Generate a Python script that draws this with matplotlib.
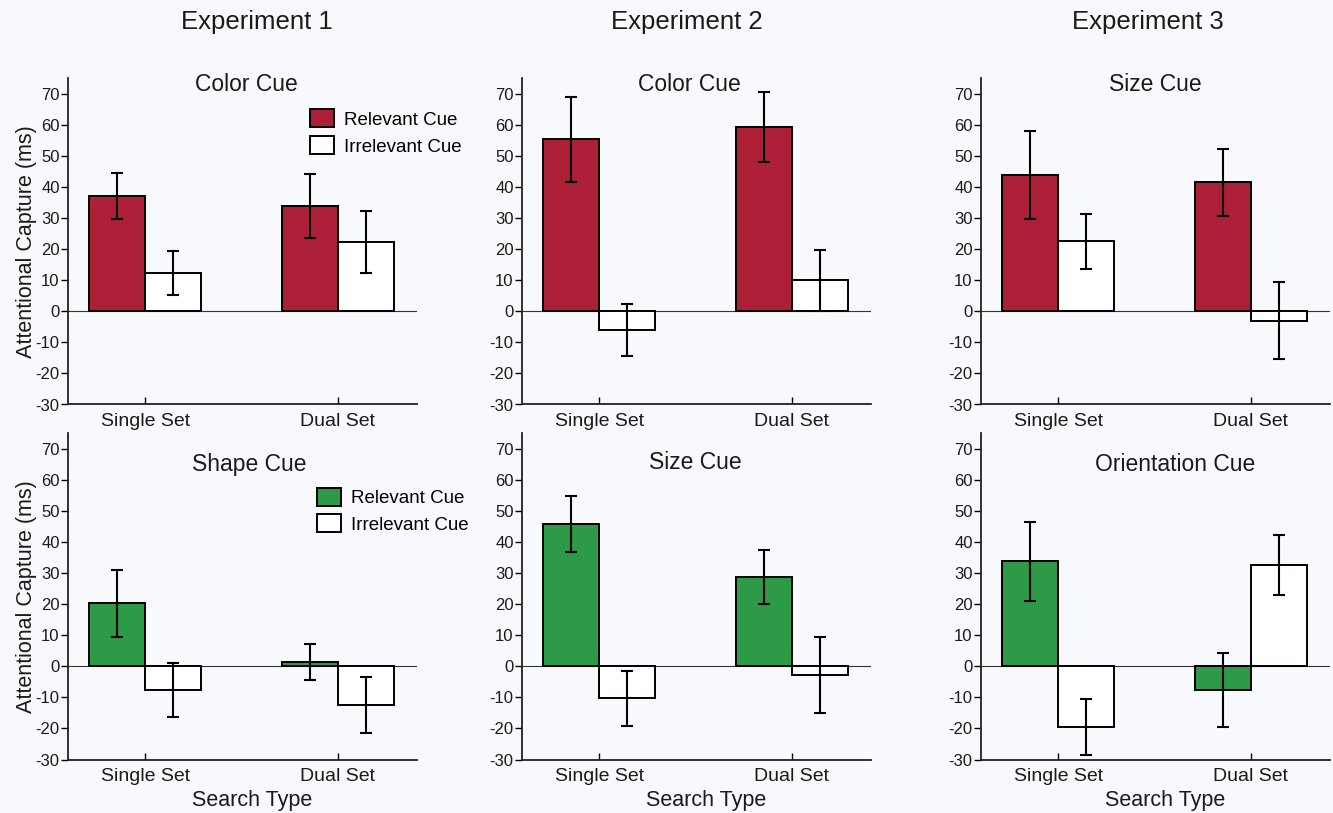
import matplotlib
matplotlib.use("Agg")
import matplotlib.pyplot as plt
from matplotlib.patches import Patch

plt.rcParams["font.family"] = ["Liberation Sans", "DejaVu Sans"]

# values (ms)
search_types = ["Single Set", "Dual Set"]
experiments = ["Experiment 1", "Experiment 2", "Experiment 3"]
panel_titles = ["Color Cue", "Color Cue", "Size Cue",
                "Shape Cue", "Size Cue", "Orientation Cue"]
relevant_means = [[37.2, 33.8], [55.3, 59.2], [43.7, 41.4],
                  [20.3, 1.3], [45.8, 28.7], [33.7, -7.6]]
relevant_errs = [[7.4, 10.2], [13.6, 11.3], [14.2, 10.7],
                 [10.8, 5.8], [9.1, 8.8], [12.6, 12.0]]
irrelevant_means = [[12.4, 22.3], [-6.0, 9.9], [22.5, -3.0],
                    [-7.7, -12.5], [-10.3, -2.8], [-19.6, 32.5]]
irrelevant_errs = [[7.1, 9.9], [8.3, 9.7], [8.85, 12.3],
                   [8.75, 8.9], [8.8, 12.1], [9.1, 9.55]]
yticks = list(range(-30, 80, 10))

red = "#ad1f36"
green = "#2c9a47"
bg = "#f8f9fc"
ink = "#1a1a1a"

W, H = 1333, 813
fig = plt.figure(figsize=(W / 100, H / 100), dpi=100, facecolor=bg)

lefts = [68, 522, 981]
tops = [78, 433]
ax_w, ax_h = 349, 326.5

title_x = [0.51, 0.48, 0.50, 0.52, 0.497, 0.556]
title_y = [72.8, 72.8, 72.8, 65.0, 65.5, 65.0]

bw = 0.29
x = [0, 1]

for i in range(6):
    row, col = divmod(i, 3)
    l, t = lefts[col], tops[row]
    ax = fig.add_axes([l / W, 1 - (t + ax_h) / H, ax_w / W, ax_h / H])
    ax.set_facecolor(bg)
    color = red if row == 0 else green

    xr = [v - bw / 2 for v in x]
    xi = [v + bw / 2 for v in x]
    ax.bar(xr, relevant_means[i], bw, color=color, edgecolor="black", linewidth=1.4, zorder=2)
    ax.bar(xi, irrelevant_means[i], bw, color="white", edgecolor="black", linewidth=1.4, zorder=2)
    ax.errorbar(xr, relevant_means[i], yerr=relevant_errs[i], fmt="none",
                ecolor="black", elinewidth=1.5, capsize=4, capthick=1.5, zorder=3)
    ax.errorbar(xi, irrelevant_means[i], yerr=irrelevant_errs[i], fmt="none",
                ecolor="black", elinewidth=1.5, capsize=4, capthick=1.5, zorder=3)
    ax.axhline(0, color="#333333", linewidth=0.8, zorder=1)

    ax.set_xlim(-0.40, 1.41)
    ax.set_ylim(-30, 75)
    ax.set_yticks(yticks)
    ax.set_yticklabels([str(v) for v in yticks], fontsize=12, color=ink)
    ax.set_xticks(x)
    ax.set_xticklabels(search_types, fontsize=14, color=ink)
    ax.tick_params(axis="y", direction="out", length=5, width=1, pad=1)
    ax.tick_params(axis="x", direction="in", length=5, width=1, pad=6)
    for s in ["top", "right"]:
        ax.spines[s].set_visible(False)
    for s in ["left", "bottom"]:
        ax.spines[s].set_linewidth(1.3)
        ax.spines[s].set_color("#222222")

    ax.text(title_x[i], title_y[i], panel_titles[i], transform=ax.get_yaxis_transform(),
            ha="center", va="center", fontsize=16.5, color=ink)

    if col == 0:
        ax.set_ylabel("Attentional Capture (ms)", fontsize=15.5, color=ink, labelpad=-1)
        handles = [Patch(facecolor=color, edgecolor="black", linewidth=1.4),
                   Patch(facecolor="white", edgecolor="black", linewidth=1.4)]
        anchor = (0.693, 0.904) if row == 0 else (0.713, 0.833)
        ax.legend(handles, ["Relevant Cue", "Irrelevant Cue"], loc="upper left",
                  bbox_to_anchor=anchor, frameon=False, fontsize=13.5,
                  handlelength=1.3, handleheight=1.1, handletextpad=0.5,
                  labelspacing=0.4, borderpad=0, borderaxespad=0)
    if row == 1:
        ax.set_xlabel("Search Type", fontsize=15.5, color=ink, labelpad=4, x=0.527)

exp_x = [257, 687, 1148]
for name, px in zip(experiments, exp_x):
    fig.text(px / W, 1 - 22 / H, name, ha="center", va="center", fontsize=18.5, color=ink)

fig.savefig("out.png", dpi=100, facecolor=bg)
